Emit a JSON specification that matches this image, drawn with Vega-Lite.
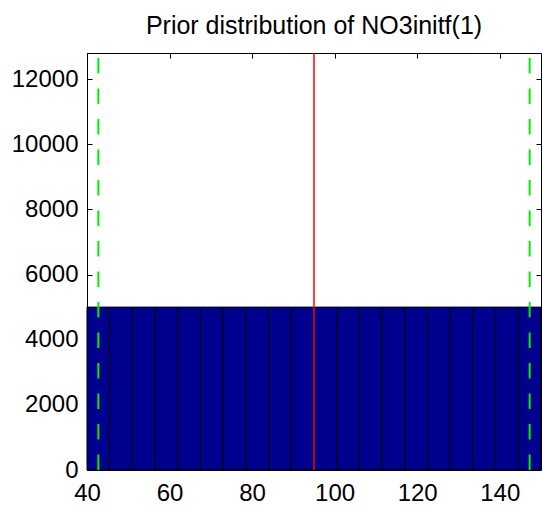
{
  "$schema": "https://vega.github.io/schema/vega-lite/v6.json",
  "autosize": "none",
  "width": 454,
  "height": 417,
  "padding": {"left": 87, "top": 53, "right": 2, "bottom": 36},
  "background": "white",
  "config": {
    "font": "Liberation Sans",
    "view": {"stroke": "#000", "strokeWidth": 1},
    "axis": {"domain": false, "grid": false, "tickColor": "#000", "tickSize": -5, "tickWidth": 1, "labelColor": "#000", "labelFont": "Liberation Sans", "labelFontSize": 24, "zindex": 1}
  },
  "title": {"text": "Prior distribution of NO3initf(1)", "font": "Liberation Sans", "fontSize": 25, "fontWeight": "normal", "color": "#000", "anchor": "middle", "baseline": "alphabetic", "offset": 19, "dy": 26, "frame": "group"},
  "datasets": {
    "bins": [
      {"bin_start": 40, "bin_end": 45.5, "count": 5000},
      {"bin_start": 45.5, "bin_end": 51, "count": 5000},
      {"bin_start": 51, "bin_end": 56.5, "count": 5000},
      {"bin_start": 56.5, "bin_end": 62, "count": 5000},
      {"bin_start": 62, "bin_end": 67.5, "count": 5000},
      {"bin_start": 67.5, "bin_end": 73, "count": 5000},
      {"bin_start": 73, "bin_end": 78.5, "count": 5000},
      {"bin_start": 78.5, "bin_end": 84, "count": 5000},
      {"bin_start": 84, "bin_end": 89.5, "count": 5000},
      {"bin_start": 89.5, "bin_end": 95, "count": 5000},
      {"bin_start": 95, "bin_end": 100.5, "count": 5000},
      {"bin_start": 100.5, "bin_end": 106, "count": 5000},
      {"bin_start": 106, "bin_end": 111.5, "count": 5000},
      {"bin_start": 111.5, "bin_end": 117, "count": 5000},
      {"bin_start": 117, "bin_end": 122.5, "count": 5000},
      {"bin_start": 122.5, "bin_end": 128, "count": 5000},
      {"bin_start": 128, "bin_end": 133.5, "count": 5000},
      {"bin_start": 133.5, "bin_end": 139, "count": 5000},
      {"bin_start": 139, "bin_end": 144.5, "count": 5000},
      {"bin_start": 144.5, "bin_end": 150, "count": 5000}
    ],
    "median": [{"value": 95}],
    "bounds": [{"value": 42.75}, {"value": 147.25}]
  },
  "resolve": {"axis": {"x": "independent", "y": "independent"}},
  "layer": [
    {
      "data": {"name": "bins"},
      "mark": {"type": "rect", "fill": "#00008F", "stroke": "#000", "strokeWidth": 1},
      "encoding": {
        "x": {"field": "bin_start", "type": "quantitative", "scale": {"domain": [40, 150], "nice": false, "zero": false},
              "axis": {"orient": "bottom", "values": [40, 60, 80, 100, 120, 140], "labelPadding": 16, "labelFlush": false, "title": null}},
        "x2": {"field": "bin_end"},
        "y": {"field": "count", "type": "quantitative", "scale": {"domain": [0, 12800], "nice": false},
              "axis": {"orient": "left", "values": [0, 2000, 4000, 6000, 8000, 10000, 12000], "format": "d", "labelPadding": 14, "labelFlush": false, "title": null}},
        "y2": {"datum": 0}
      }
    },
    {
      "data": {"name": "median"},
      "mark": {"type": "rule", "color": "#ff0000", "strokeWidth": 1.5},
      "encoding": {
        "x": {"field": "value", "type": "quantitative",
              "axis": {"orient": "top", "values": [40, 60, 80, 100, 120, 140], "labels": false, "title": null}},
        "y": {"datum": 0, "type": "quantitative",
              "axis": {"orient": "right", "values": [0, 2000, 4000, 6000, 8000, 10000, 12000], "labels": false, "title": null}},
        "y2": {"datum": 12800}
      }
    },
    {
      "data": {"name": "bounds"},
      "mark": {"type": "rule", "color": "#00ee00", "strokeWidth": 2, "strokeDash": [15.5, 15]},
      "encoding": {
        "x": {"field": "value", "type": "quantitative", "axis": null},
        "y": {"datum": 0, "type": "quantitative", "axis": null},
        "y2": {"datum": 12800}
      }
    }
  ]
}
